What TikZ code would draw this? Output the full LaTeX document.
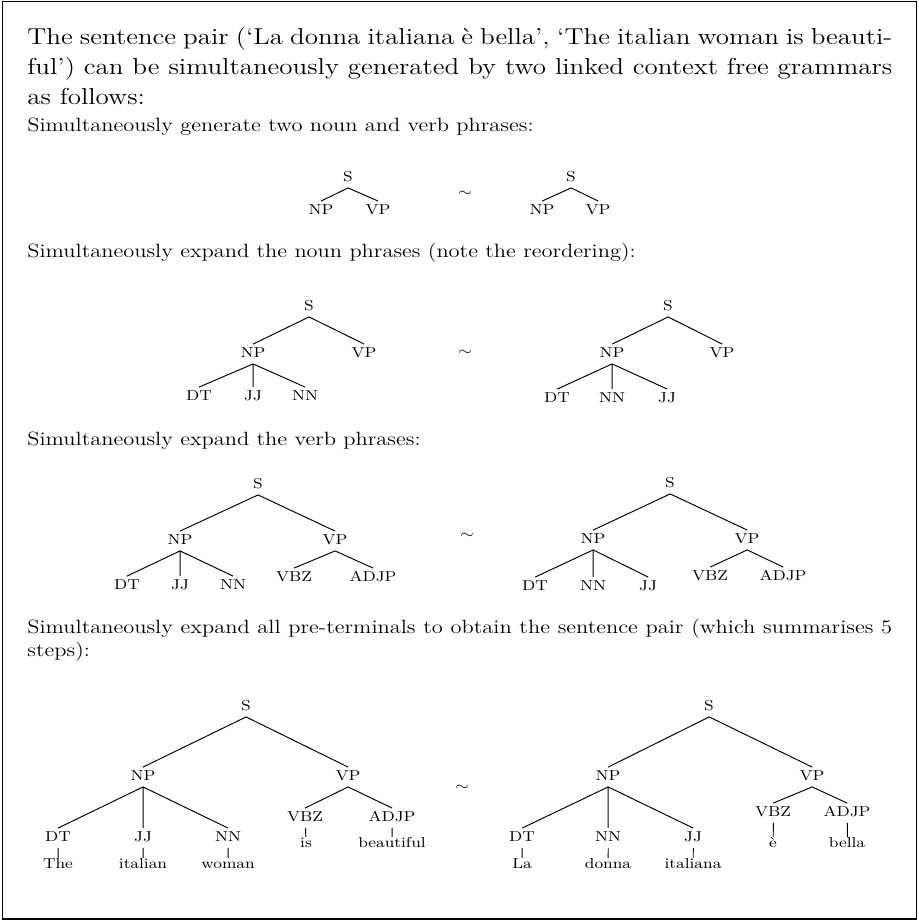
\documentclass[tikz,border=0pt]{standalone}
\usepackage{tikz}
\tikzset{
	outerbox/.style ={draw=black, line width=0.8pt},
	introtext/.style={anchor=base west, inner sep=0pt, text width=462pt, align=justify, font=\fontsize{14.4}{18.5}\selectfont},
	steptext/.style ={anchor=base west, inner sep=0pt, font=\fontsize{12}{14.5}\selectfont},
	cat/.style      ={inner sep=1.5pt, text height=6.5pt, text depth=2.5pt, font=\fontsize{9}{11}\selectfont},
	word/.style     ={inner sep=1pt, text height=5.5pt, text depth=1pt, font=\fontsize{9}{11}\selectfont},
	branch/.style   ={line width=0.6pt},
}
\begin{document}
\begin{tikzpicture}[x=0.5342pt, y=-0.625pt, xscale=1.17, every node/.append style={transform shape}]
	\useasboundingbox (0,0) rectangle (918,921);
	\draw[outerbox] (2.5,1.5) rectangle (916.5,919);
	\node[introtext] (intro) at (27,45) {The sentence pair (‘La donna italiana è bella’, ‘The italian woman is beauti-\linebreak ful’) can be simultaneously generated by two linked context free grammars\linebreak as follows:};
	\node[steptext] (step1) at (27,132) {Simultaneously generate two noun and verb phrases:};
	\node[steptext] (step2) at (27,258) {Simultaneously expand the noun phrases (note the reordering):};
	\node[steptext] (step3) at (27,445) {Simultaneously expand the verb phrases:};
	\node[steptext, text width=462pt, align=justify] (step4) at (27,633) {Simultaneously expand all pre-terminals to obtain the sentence pair (which summarises 5\linebreak steps):};

	\node[cat] (s1a) at (348,178) {S};
	\node[cat] (np1a) at (321,211) {NP};
	\node[cat] (vp1a) at (378,211) {VP};
	\node[cat] (t1) at (465,193) {$\sim$};
	\node[cat] (s1b) at (571,178) {S};
	\node[cat] (np1b) at (542,211) {NP};
	\node[cat] (vp1b) at (598,211) {VP};
	\draw[branch] (s1a.south) -- (np1a.north) (s1a.south) -- (vp1a.north);
	\draw[branch] (s1b.south) -- (np1b.north) (s1b.south) -- (vp1b.north);

	\node[cat] (s2a) at (309,307) {S};
	\node[cat] (np2a) at (253,354) {NP};
	\node[cat] (vp2a) at (364,354) {VP};
	\node[cat] (dt2a) at (199,397) {DT};
	\node[cat] (jj2a) at (253,397) {JJ};
	\node[cat] (nn2a) at (305,397) {NN};
	\node[cat] (t2) at (465,352) {$\sim$};
	\node[cat] (s2b) at (668,307) {S};
	\node[cat] (np2b) at (612,354) {NP};
	\node[cat] (vp2b) at (722,354) {VP};
	\node[cat] (dt2b) at (557,399) {DT};
	\node[cat] (nn2b) at (612,399) {NN};
	\node[cat] (jj2b) at (667,399) {JJ};
	\draw[branch] (s2a.south) -- (np2a.north) (s2a.south) -- (vp2a.north);
	\draw[branch] (np2a.south) -- (dt2a.north) (np2a.south) -- (jj2a.north) (np2a.south) -- (nn2a.north);
	\draw[branch] (s2b.south) -- (np2b.north) (s2b.south) -- (vp2b.north);
	\draw[branch] (np2b.south) -- (dt2b.north) (np2b.south) -- (nn2b.north) (np2b.south) -- (jj2b.north);

	\node[cat] (s3a) at (258,485) {S};
	\node[cat] (np3a) at (180,541) {NP};
	\node[cat] (vp3a) at (335,541) {VP};
	\node[cat] (dt3a) at (127,586) {DT};
	\node[cat] (jj3a) at (180,586) {JJ};
	\node[cat] (nn3a) at (233,586) {NN};
	\node[cat] (vbz3a) at (294,578) {VBZ};
	\node[cat] (adjp3a) at (373,578) {ADJP};
	\node[cat] (t3) at (467,535) {$\sim$};
	\node[cat] (s3b) at (670,484) {S};
	\node[cat] (np3b) at (593,540) {NP};
	\node[cat] (vp3b) at (747,540) {VP};
	\node[cat] (dt3b) at (535,587) {DT};
	\node[cat] (nn3b) at (593,587) {NN};
	\node[cat] (jj3b) at (648,587) {JJ};
	\node[cat] (vbz3b) at (710,577) {VBZ};
	\node[cat] (adjp3b) at (783,577) {ADJP};
	\draw[branch] (s3a.south) -- (np3a.north) (s3a.south) -- (vp3a.north);
	\draw[branch] (np3a.south) -- (dt3a.north) (np3a.south) -- (jj3a.north) (np3a.south) -- (nn3a.north);
	\draw[branch] (vp3a.south) -- (vbz3a.north) (vp3a.south) -- (adjp3a.north);
	\draw[branch] (s3b.south) -- (np3b.north) (s3b.south) -- (vp3b.north);
	\draw[branch] (np3b.south) -- (dt3b.north) (np3b.south) -- (nn3b.north) (np3b.south) -- (jj3b.north);
	\draw[branch] (vp3b.south) -- (vbz3b.north) (vp3b.south) -- (adjp3b.north);

	\node[cat] (s4a) at (246,707) {S};
	\node[cat] (np4a) at (143,777) {NP};
	\node[cat] (vp4a) at (348,777) {VP};
	\node[cat] (dt4a) at (58,838) {DT};
	\node[cat] (jj4a) at (143,838) {JJ};
	\node[cat] (nn4a) at (228,838) {NN};
	\node[cat] (vbz4a) at (305,818) {VBZ};
	\node[cat] (adjp4a) at (392,818) {ADJP};
	\node[word] (the) at (58,865) {The};
	\node[word] (italian) at (143,865) {italian};
	\node[word] (woman) at (228,865) {woman};
	\node[word] (is) at (306,844) {is};
	\node[word] (beautiful) at (392,844) {beautiful};
	\node[cat] (t4) at (462,787) {$\sim$};
	\node[cat] (s4b) at (709,707) {S};
	\node[cat] (np4b) at (608,777) {NP};
	\node[cat] (vp4b) at (812,777) {VP};
	\node[cat] (dt4b) at (522,838) {DT};
	\node[cat] (nn4b) at (608,838) {NN};
	\node[cat] (jj4b) at (693,838) {JJ};
	\node[cat] (vbz4b) at (773,813) {VBZ};
	\node[cat] (adjp4b) at (847,813) {ADJP};
	\node[word] (la) at (522,865) {La};
	\node[word] (donna) at (608,865) {donna};
	\node[word] (italiana) at (693,865) {italiana};
	\node[word] (egrave) at (773,844) {è};
	\node[word] (bella) at (847,844) {bella};
	\draw[branch] (s4a.south) -- (np4a.north) (s4a.south) -- (vp4a.north);
	\draw[branch] (np4a.south) -- (dt4a.north) (np4a.south) -- (jj4a.north) (np4a.south) -- (nn4a.north);
	\draw[branch] (vp4a.south) -- (vbz4a.north) (vp4a.south) -- (adjp4a.north);
	\draw[branch] (dt4a) -- (the) (jj4a) -- (italian) (nn4a) -- (woman) (vbz4a) -- (is) (adjp4a) -- (beautiful);
	\draw[branch] (s4b.south) -- (np4b.north) (s4b.south) -- (vp4b.north);
	\draw[branch] (np4b.south) -- (dt4b.north) (np4b.south) -- (nn4b.north) (np4b.south) -- (jj4b.north);
	\draw[branch] (vp4b.south) -- (vbz4b.north) (vp4b.south) -- (adjp4b.north);
	\draw[branch] (dt4b) -- (la) (nn4b) -- (donna) (jj4b) -- (italiana) (vbz4b) -- (egrave) (adjp4b) -- (bella);
\end{tikzpicture}
\end{document}
